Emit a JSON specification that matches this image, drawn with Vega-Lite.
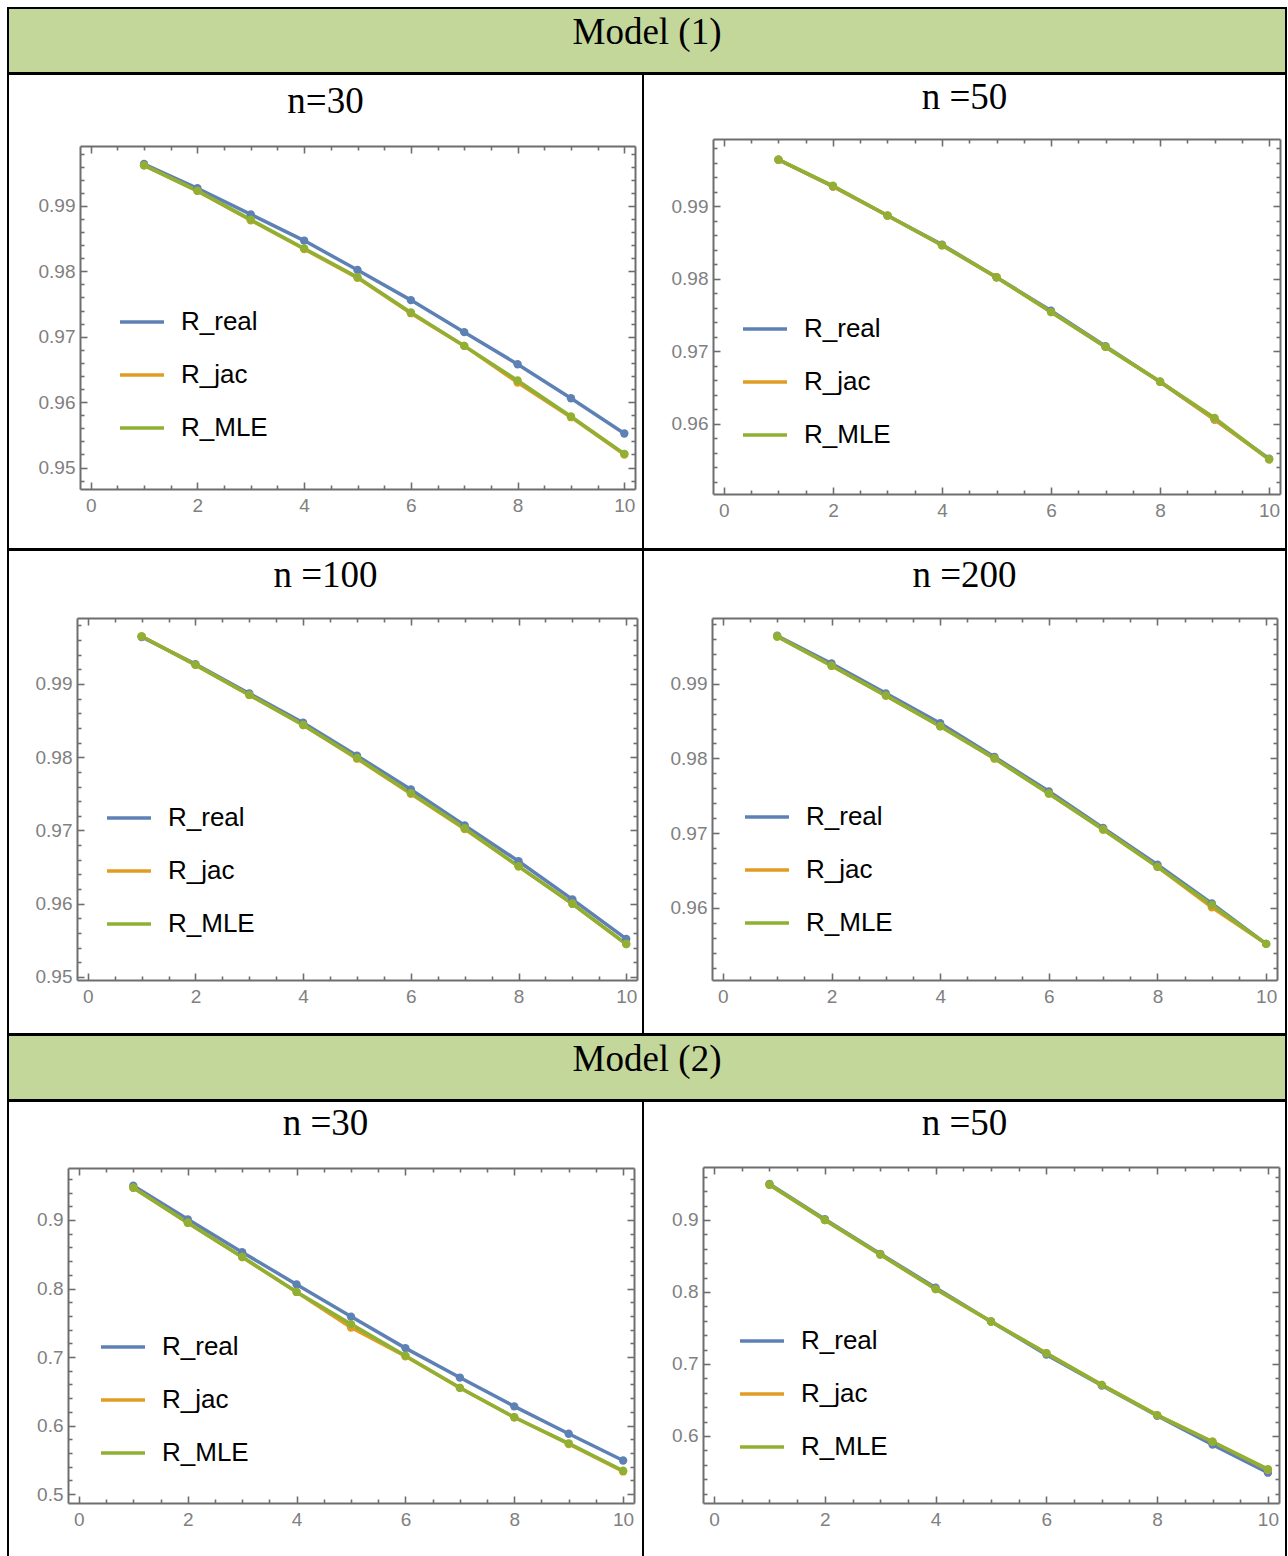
{
  "$schema": "https://vega.github.io/schema/vega-lite/v6.json",
  "padding": {"left": 7, "top": 7, "right": 0, "bottom": 0},
  "background": "white",
  "spacing": -2,
  "config": {
    "view": {"stroke": "black", "strokeWidth": 2},
    "concat": {"spacing": 0},
    "title": {"font": "Liberation Serif", "fontSize": 37, "fontWeight": "normal", "color": "black", "anchor": "middle"},
    "axis": {"domainColor": "#6e6e6e", "domainWidth": 2, "tickColor": "#6e6e6e", "tickWidth": 1.6, "labelColor": "#808080", "labelFont": "Liberation Sans", "labelFontSize": 19, "grid": false, "title": null, "labelOverlap": false, "labelFlush": false, "labelBound": false},
    "legend": {"orient": "none", "title": null, "symbolType": "stroke", "symbolSize": 1936, "symbolStrokeWidth": 3.5, "labelFont": "Liberation Sans", "labelFontSize": 26, "labelColor": "black", "labelOffset": 15, "rowPadding": 16, "padding": 0, "labelLimit": 300},
    "line": {"strokeWidth": 3.5},
    "point": {"filled": true, "size": 70, "opacity": 1}
  },
  "datasets": {
    "p1": [
      {"t":1,"s":"R_real","R":0.9964},{"t":2,"s":"R_real","R":0.9927},{"t":3,"s":"R_real","R":0.9887},{"t":4,"s":"R_real","R":0.9847},{"t":5,"s":"R_real","R":0.9802},{"t":6,"s":"R_real","R":0.9756},{"t":7,"s":"R_real","R":0.9707},{"t":8,"s":"R_real","R":0.9658},{"t":9,"s":"R_real","R":0.9606},{"t":10,"s":"R_real","R":0.9552},
      {"t":1,"s":"R_jac","R":0.9962},{"t":2,"s":"R_jac","R":0.9923},{"t":3,"s":"R_jac","R":0.9878},{"t":4,"s":"R_jac","R":0.9834},{"t":5,"s":"R_jac","R":0.9790},{"t":6,"s":"R_jac","R":0.9736},{"t":7,"s":"R_jac","R":0.9686},{"t":8,"s":"R_jac","R":0.9630},{"t":9,"s":"R_jac","R":0.9577},{"t":10,"s":"R_jac","R":0.9520},
      {"t":1,"s":"R_MLE","R":0.9962},{"t":2,"s":"R_MLE","R":0.9923},{"t":3,"s":"R_MLE","R":0.9879},{"t":4,"s":"R_MLE","R":0.9835},{"t":5,"s":"R_MLE","R":0.9791},{"t":6,"s":"R_MLE","R":0.9737},{"t":7,"s":"R_MLE","R":0.9686},{"t":8,"s":"R_MLE","R":0.9633},{"t":9,"s":"R_MLE","R":0.9578},{"t":10,"s":"R_MLE","R":0.9521}
    ],
    "p2": [
      {"t":1,"s":"R_real","R":0.9964},{"t":2,"s":"R_real","R":0.9927},{"t":3,"s":"R_real","R":0.9887},{"t":4,"s":"R_real","R":0.9847},{"t":5,"s":"R_real","R":0.9802},{"t":6,"s":"R_real","R":0.9756},{"t":7,"s":"R_real","R":0.9707},{"t":8,"s":"R_real","R":0.9658},{"t":9,"s":"R_real","R":0.9606},{"t":10,"s":"R_real","R":0.9552},
      {"t":1,"s":"R_jac","R":0.9964},{"t":2,"s":"R_jac","R":0.9927},{"t":3,"s":"R_jac","R":0.9887},{"t":4,"s":"R_jac","R":0.9846},{"t":5,"s":"R_jac","R":0.9802},{"t":6,"s":"R_jac","R":0.9754},{"t":7,"s":"R_jac","R":0.9706},{"t":8,"s":"R_jac","R":0.9658},{"t":9,"s":"R_jac","R":0.9606},{"t":10,"s":"R_jac","R":0.9551},
      {"t":1,"s":"R_MLE","R":0.9964},{"t":2,"s":"R_MLE","R":0.9928},{"t":3,"s":"R_MLE","R":0.9887},{"t":4,"s":"R_MLE","R":0.9846},{"t":5,"s":"R_MLE","R":0.9802},{"t":6,"s":"R_MLE","R":0.9754},{"t":7,"s":"R_MLE","R":0.9706},{"t":8,"s":"R_MLE","R":0.9658},{"t":9,"s":"R_MLE","R":0.9608},{"t":10,"s":"R_MLE","R":0.9551}
    ],
    "p3": [
      {"t":1,"s":"R_real","R":0.9964},{"t":2,"s":"R_real","R":0.9927},{"t":3,"s":"R_real","R":0.9887},{"t":4,"s":"R_real","R":0.9847},{"t":5,"s":"R_real","R":0.9802},{"t":6,"s":"R_real","R":0.9756},{"t":7,"s":"R_real","R":0.9707},{"t":8,"s":"R_real","R":0.9658},{"t":9,"s":"R_real","R":0.9606},{"t":10,"s":"R_real","R":0.9552},
      {"t":1,"s":"R_jac","R":0.9965},{"t":2,"s":"R_jac","R":0.9926},{"t":3,"s":"R_jac","R":0.9885},{"t":4,"s":"R_jac","R":0.9844},{"t":5,"s":"R_jac","R":0.9798},{"t":6,"s":"R_jac","R":0.9750},{"t":7,"s":"R_jac","R":0.9702},{"t":8,"s":"R_jac","R":0.9651},{"t":9,"s":"R_jac","R":0.9600},{"t":10,"s":"R_jac","R":0.9545},
      {"t":1,"s":"R_MLE","R":0.9965},{"t":2,"s":"R_MLE","R":0.9926},{"t":3,"s":"R_MLE","R":0.9885},{"t":4,"s":"R_MLE","R":0.9844},{"t":5,"s":"R_MLE","R":0.9799},{"t":6,"s":"R_MLE","R":0.9751},{"t":7,"s":"R_MLE","R":0.9703},{"t":8,"s":"R_MLE","R":0.9651},{"t":9,"s":"R_MLE","R":0.9600},{"t":10,"s":"R_MLE","R":0.9545}
    ],
    "p4": [
      {"t":1,"s":"R_real","R":0.9964},{"t":2,"s":"R_real","R":0.9927},{"t":3,"s":"R_real","R":0.9887},{"t":4,"s":"R_real","R":0.9847},{"t":5,"s":"R_real","R":0.9802},{"t":6,"s":"R_real","R":0.9756},{"t":7,"s":"R_real","R":0.9707},{"t":8,"s":"R_real","R":0.9658},{"t":9,"s":"R_real","R":0.9606},{"t":10,"s":"R_real","R":0.9552},
      {"t":1,"s":"R_jac","R":0.9963},{"t":2,"s":"R_jac","R":0.9924},{"t":3,"s":"R_jac","R":0.9884},{"t":4,"s":"R_jac","R":0.9843},{"t":5,"s":"R_jac","R":0.9800},{"t":6,"s":"R_jac","R":0.9753},{"t":7,"s":"R_jac","R":0.9705},{"t":8,"s":"R_jac","R":0.9655},{"t":9,"s":"R_jac","R":0.9601},{"t":10,"s":"R_jac","R":0.9552},
      {"t":1,"s":"R_MLE","R":0.9963},{"t":2,"s":"R_MLE","R":0.9924},{"t":3,"s":"R_MLE","R":0.9884},{"t":4,"s":"R_MLE","R":0.9843},{"t":5,"s":"R_MLE","R":0.9800},{"t":6,"s":"R_MLE","R":0.9753},{"t":7,"s":"R_MLE","R":0.9705},{"t":8,"s":"R_MLE","R":0.9655},{"t":9,"s":"R_MLE","R":0.9604},{"t":10,"s":"R_MLE","R":0.9552}
    ],
    "p5": [
      {"t":1,"s":"R_real","R":0.950},{"t":2,"s":"R_real","R":0.901},{"t":3,"s":"R_real","R":0.853},{"t":4,"s":"R_real","R":0.806},{"t":5,"s":"R_real","R":0.759},{"t":6,"s":"R_real","R":0.713},{"t":7,"s":"R_real","R":0.670},{"t":8,"s":"R_real","R":0.628},{"t":9,"s":"R_real","R":0.588},{"t":10,"s":"R_real","R":0.549},
      {"t":1,"s":"R_jac","R":0.947},{"t":2,"s":"R_jac","R":0.896},{"t":3,"s":"R_jac","R":0.846},{"t":4,"s":"R_jac","R":0.795},{"t":5,"s":"R_jac","R":0.743},{"t":6,"s":"R_jac","R":0.701},{"t":7,"s":"R_jac","R":0.655},{"t":8,"s":"R_jac","R":0.612},{"t":9,"s":"R_jac","R":0.573},{"t":10,"s":"R_jac","R":0.533},
      {"t":1,"s":"R_MLE","R":0.947},{"t":2,"s":"R_MLE","R":0.896},{"t":3,"s":"R_MLE","R":0.846},{"t":4,"s":"R_MLE","R":0.795},{"t":5,"s":"R_MLE","R":0.748},{"t":6,"s":"R_MLE","R":0.702},{"t":7,"s":"R_MLE","R":0.655},{"t":8,"s":"R_MLE","R":0.612},{"t":9,"s":"R_MLE","R":0.574},{"t":10,"s":"R_MLE","R":0.534}
    ],
    "p6": [
      {"t":1,"s":"R_real","R":0.950},{"t":2,"s":"R_real","R":0.901},{"t":3,"s":"R_real","R":0.853},{"t":4,"s":"R_real","R":0.806},{"t":5,"s":"R_real","R":0.759},{"t":6,"s":"R_real","R":0.713},{"t":7,"s":"R_real","R":0.670},{"t":8,"s":"R_real","R":0.628},{"t":9,"s":"R_real","R":0.588},{"t":10,"s":"R_real","R":0.549},
      {"t":1,"s":"R_jac","R":0.949},{"t":2,"s":"R_jac","R":0.900},{"t":3,"s":"R_jac","R":0.852},{"t":4,"s":"R_jac","R":0.804},{"t":5,"s":"R_jac","R":0.759},{"t":6,"s":"R_jac","R":0.715},{"t":7,"s":"R_jac","R":0.671},{"t":8,"s":"R_jac","R":0.629},{"t":9,"s":"R_jac","R":0.592},{"t":10,"s":"R_jac","R":0.553},
      {"t":1,"s":"R_MLE","R":0.949},{"t":2,"s":"R_MLE","R":0.900},{"t":3,"s":"R_MLE","R":0.852},{"t":4,"s":"R_MLE","R":0.804},{"t":5,"s":"R_MLE","R":0.759},{"t":6,"s":"R_MLE","R":0.715},{"t":7,"s":"R_MLE","R":0.671},{"t":8,"s":"R_MLE","R":0.629},{"t":9,"s":"R_MLE","R":0.592},{"t":10,"s":"R_MLE","R":0.554}
    ]
  },
  "resolve": {"scale": {"color": "independent"}, "legend": {"color": "independent"}},
  "vconcat": [
    {
      "width": 1278, "height": 65,
      "view": {"fill": "#c4d79b", "stroke": "black", "strokeWidth": 2},
      "data": {"values": [{"label": "Model (1)"}]},
      "mark": {"type": "text", "font": "Liberation Serif", "fontSize": 37, "baseline": "alphabetic", "dy": 3, "color": "black"},
      "encoding": {"text": {"field": "label", "type": "nominal"}}
    },
    {
      "spacing": 0, "bounds": "flush",
      "resolve": {"scale": {"color": "independent"}, "legend": {"color": "independent"}},
      "hconcat": [
        {
          "width": 635, "height": 475,
          "title": {"text": "n=30", "offset": -47},
          "data": {"name": "p1"},
          "layer": [
            {"mark": {"type": "line"},
             "encoding": {
               "x": {"field": "t", "type": "quantitative", "scale": {"domain": [-0.2, 10.2], "range": [72, 627], "nice": false, "zero": false},
                     "axis": {"orient": "bottom", "offset": -60, "values": [0,0.5,1,1.5,2,2.5,3,3.5,4,4.5,5,5.5,6,6.5,7,7.5,8,8.5,9,9.5,10], "labelExpr": "datum.value % 2 === 0 ? format(datum.value, 'd') : ''", "tickSize": {"condition": {"test": "datum.value % 2 === 0", "value": -7}, "value": -4}, "labelPadding": 14}},
               "y": {"field": "R", "type": "quantitative", "scale": {"domain": [0.94672, 0.99916], "range": [415, 72], "nice": false, "zero": false},
                     "axis": {"orient": "left", "offset": -72, "values": [0.948,0.95,0.952,0.954,0.956,0.958,0.96,0.962,0.964,0.966,0.968,0.97,0.972,0.974,0.976,0.978,0.98,0.982,0.984,0.986,0.988,0.99,0.992,0.994,0.996,0.998], "labelExpr": "abs(datum.value*100-round(datum.value*100)) < 0.001 ? format(datum.value, '.2f') : ''", "tickSize": {"condition": {"test": "abs(datum.value*100-round(datum.value*100)) < 0.001", "value": -7}, "value": -4}, "labelPadding": 12}},
               "color": {"field": "s", "type": "nominal", "scale": {"domain": ["R_real", "R_jac", "R_MLE"], "range": ["#5E81B5", "#E19C24", "#8FB032"]},
                         "legend": {"legendX": 110, "legendY": 224}}
             }},
            {"mark": {"type": "point"},
             "encoding": {
               "x": {"field": "t", "type": "quantitative", "scale": {"domain": [-0.2, 10.2], "range": [72, 627], "nice": false, "zero": false},
                     "axis": {"orient": "top", "offset": -72, "values": [0,0.5,1,1.5,2,2.5,3,3.5,4,4.5,5,5.5,6,6.5,7,7.5,8,8.5,9,9.5,10], "labels": false, "tickSize": {"condition": {"test": "datum.value % 2 === 0", "value": -7}, "value": -4}}},
               "y": {"field": "R", "type": "quantitative", "scale": {"domain": [0.94672, 0.99916], "range": [415, 72], "nice": false, "zero": false},
                     "axis": {"orient": "right", "offset": -8, "values": [0.948,0.95,0.952,0.954,0.956,0.958,0.96,0.962,0.964,0.966,0.968,0.97,0.972,0.974,0.976,0.978,0.98,0.982,0.984,0.986,0.988,0.99,0.992,0.994,0.996,0.998], "labels": false, "tickSize": {"condition": {"test": "abs(datum.value*100-round(datum.value*100)) < 0.001", "value": -7}, "value": -4}}},
               "color": {"field": "s", "type": "nominal", "scale": {"domain": ["R_real", "R_jac", "R_MLE"], "range": ["#5E81B5", "#E19C24", "#8FB032"]}, "legend": null}
             }}
          ],
          "resolve": {"axis": {"x": "independent", "y": "independent"}}
        },
        {
          "width": 643, "height": 475,
          "title": {"text": "n =50", "offset": -43},
          "data": {"name": "p2"},
          "layer": [
            {"mark": {"type": "line"},
             "encoding": {
               "x": {"field": "t", "type": "quantitative", "scale": {"domain": [-0.2, 10.2], "range": [70, 637], "nice": false, "zero": false},
                     "axis": {"orient": "bottom", "offset": -55, "values": [0,0.5,1,1.5,2,2.5,3,3.5,4,4.5,5,5.5,6,6.5,7,7.5,8,8.5,9,9.5,10], "labelExpr": "datum.value % 2 === 0 ? format(datum.value, 'd') : ''", "tickSize": {"condition": {"test": "datum.value % 2 === 0", "value": -7}, "value": -4}, "labelPadding": 14}},
               "y": {"field": "R", "type": "quantitative", "scale": {"domain": [0.95033, 0.99925], "range": [420, 65], "nice": false, "zero": false},
                     "axis": {"orient": "left", "offset": -70, "values": [0.952,0.954,0.956,0.958,0.96,0.962,0.964,0.966,0.968,0.97,0.972,0.974,0.976,0.978,0.98,0.982,0.984,0.986,0.988,0.99,0.992,0.994,0.996,0.998], "labelExpr": "abs(datum.value*100-round(datum.value*100)) < 0.001 ? format(datum.value, '.2f') : ''", "tickSize": {"condition": {"test": "abs(datum.value*100-round(datum.value*100)) < 0.001", "value": -7}, "value": -4}, "labelPadding": 12}},
               "color": {"field": "s", "type": "nominal", "scale": {"domain": ["R_real", "R_jac", "R_MLE"], "range": ["#5E81B5", "#E19C24", "#8FB032"]},
                         "legend": {"legendX": 98, "legendY": 231}}
             }},
            {"mark": {"type": "point"},
             "encoding": {
               "x": {"field": "t", "type": "quantitative", "scale": {"domain": [-0.2, 10.2], "range": [70, 637], "nice": false, "zero": false},
                     "axis": {"orient": "top", "offset": -65, "values": [0,0.5,1,1.5,2,2.5,3,3.5,4,4.5,5,5.5,6,6.5,7,7.5,8,8.5,9,9.5,10], "labels": false, "tickSize": {"condition": {"test": "datum.value % 2 === 0", "value": -7}, "value": -4}}},
               "y": {"field": "R", "type": "quantitative", "scale": {"domain": [0.95033, 0.99925], "range": [420, 65], "nice": false, "zero": false},
                     "axis": {"orient": "right", "offset": -6, "values": [0.952,0.954,0.956,0.958,0.96,0.962,0.964,0.966,0.968,0.97,0.972,0.974,0.976,0.978,0.98,0.982,0.984,0.986,0.988,0.99,0.992,0.994,0.996,0.998], "labels": false, "tickSize": {"condition": {"test": "abs(datum.value*100-round(datum.value*100)) < 0.001", "value": -7}, "value": -4}}},
               "color": {"field": "s", "type": "nominal", "scale": {"domain": ["R_real", "R_jac", "R_MLE"], "range": ["#5E81B5", "#E19C24", "#8FB032"]}, "legend": null}
             }}
          ],
          "resolve": {"axis": {"x": "independent", "y": "independent"}}
        }
      ]
    },
    {
      "spacing": 0, "bounds": "flush",
      "resolve": {"scale": {"color": "independent"}, "legend": {"color": "independent"}},
      "hconcat": [
        {
          "width": 635, "height": 484,
          "title": {"text": "n =100", "offset": -45},
          "data": {"name": "p3"},
          "layer": [
            {"mark": {"type": "line"},
             "encoding": {
               "x": {"field": "t", "type": "quantitative", "scale": {"domain": [-0.2, 10.2], "range": [69, 629], "nice": false, "zero": false},
                     "axis": {"orient": "bottom", "offset": -54, "values": [0,0.5,1,1.5,2,2.5,3,3.5,4,4.5,5,5.5,6,6.5,7,7.5,8,8.5,9,9.5,10], "labelExpr": "datum.value % 2 === 0 ? format(datum.value, 'd') : ''", "tickSize": {"condition": {"test": "datum.value % 2 === 0", "value": -7}, "value": -4}, "labelPadding": 14}},
               "y": {"field": "R", "type": "quantitative", "scale": {"domain": [0.94959, 0.999], "range": [430, 68], "nice": false, "zero": false},
                     "axis": {"orient": "left", "offset": -69, "values": [0.95,0.952,0.954,0.956,0.958,0.96,0.962,0.964,0.966,0.968,0.97,0.972,0.974,0.976,0.978,0.98,0.982,0.984,0.986,0.988,0.99,0.992,0.994,0.996,0.998], "labelExpr": "abs(datum.value*100-round(datum.value*100)) < 0.001 ? format(datum.value, '.2f') : ''", "tickSize": {"condition": {"test": "abs(datum.value*100-round(datum.value*100)) < 0.001", "value": -7}, "value": -4}, "labelPadding": 12}},
               "color": {"field": "s", "type": "nominal", "scale": {"domain": ["R_real", "R_jac", "R_MLE"], "range": ["#5E81B5", "#E19C24", "#8FB032"]},
                         "legend": {"legendX": 97, "legendY": 244}}
             }},
            {"mark": {"type": "point"},
             "encoding": {
               "x": {"field": "t", "type": "quantitative", "scale": {"domain": [-0.2, 10.2], "range": [69, 629], "nice": false, "zero": false},
                     "axis": {"orient": "top", "offset": -68, "values": [0,0.5,1,1.5,2,2.5,3,3.5,4,4.5,5,5.5,6,6.5,7,7.5,8,8.5,9,9.5,10], "labels": false, "tickSize": {"condition": {"test": "datum.value % 2 === 0", "value": -7}, "value": -4}}},
               "y": {"field": "R", "type": "quantitative", "scale": {"domain": [0.94959, 0.999], "range": [430, 68], "nice": false, "zero": false},
                     "axis": {"orient": "right", "offset": -6, "values": [0.95,0.952,0.954,0.956,0.958,0.96,0.962,0.964,0.966,0.968,0.97,0.972,0.974,0.976,0.978,0.98,0.982,0.984,0.986,0.988,0.99,0.992,0.994,0.996,0.998], "labels": false, "tickSize": {"condition": {"test": "abs(datum.value*100-round(datum.value*100)) < 0.001", "value": -7}, "value": -4}}},
               "color": {"field": "s", "type": "nominal", "scale": {"domain": ["R_real", "R_jac", "R_MLE"], "range": ["#5E81B5", "#E19C24", "#8FB032"]}, "legend": null}
             }}
          ],
          "resolve": {"axis": {"x": "independent", "y": "independent"}}
        },
        {
          "width": 643, "height": 484,
          "title": {"text": "n =200", "offset": -45},
          "data": {"name": "p4"},
          "layer": [
            {"mark": {"type": "line"},
             "encoding": {
               "x": {"field": "t", "type": "quantitative", "scale": {"domain": [-0.2, 10.2], "range": [69, 634], "nice": false, "zero": false},
                     "axis": {"orient": "bottom", "offset": -54, "values": [0,0.5,1,1.5,2,2.5,3,3.5,4,4.5,5,5.5,6,6.5,7,7.5,8,8.5,9,9.5,10], "labelExpr": "datum.value % 2 === 0 ? format(datum.value, 'd') : ''", "tickSize": {"condition": {"test": "datum.value % 2 === 0", "value": -7}, "value": -4}, "labelPadding": 14}},
               "y": {"field": "R", "type": "quantitative", "scale": {"domain": [0.95037, 0.99878], "range": [430, 68], "nice": false, "zero": false},
                     "axis": {"orient": "left", "offset": -69, "values": [0.952,0.954,0.956,0.958,0.96,0.962,0.964,0.966,0.968,0.97,0.972,0.974,0.976,0.978,0.98,0.982,0.984,0.986,0.988,0.99,0.992,0.994,0.996,0.998], "labelExpr": "abs(datum.value*100-round(datum.value*100)) < 0.001 ? format(datum.value, '.2f') : ''", "tickSize": {"condition": {"test": "abs(datum.value*100-round(datum.value*100)) < 0.001", "value": -7}, "value": -4}, "labelPadding": 12}},
               "color": {"field": "s", "type": "nominal", "scale": {"domain": ["R_real", "R_jac", "R_MLE"], "range": ["#5E81B5", "#E19C24", "#8FB032"]},
                         "legend": {"legendX": 100, "legendY": 243}}
             }},
            {"mark": {"type": "point"},
             "encoding": {
               "x": {"field": "t", "type": "quantitative", "scale": {"domain": [-0.2, 10.2], "range": [69, 634], "nice": false, "zero": false},
                     "axis": {"orient": "top", "offset": -68, "values": [0,0.5,1,1.5,2,2.5,3,3.5,4,4.5,5,5.5,6,6.5,7,7.5,8,8.5,9,9.5,10], "labels": false, "tickSize": {"condition": {"test": "datum.value % 2 === 0", "value": -7}, "value": -4}}},
               "y": {"field": "R", "type": "quantitative", "scale": {"domain": [0.95037, 0.99878], "range": [430, 68], "nice": false, "zero": false},
                     "axis": {"orient": "right", "offset": -9, "values": [0.952,0.954,0.956,0.958,0.96,0.962,0.964,0.966,0.968,0.97,0.972,0.974,0.976,0.978,0.98,0.982,0.984,0.986,0.988,0.99,0.992,0.994,0.996,0.998], "labels": false, "tickSize": {"condition": {"test": "abs(datum.value*100-round(datum.value*100)) < 0.001", "value": -7}, "value": -4}}},
               "color": {"field": "s", "type": "nominal", "scale": {"domain": ["R_real", "R_jac", "R_MLE"], "range": ["#5E81B5", "#E19C24", "#8FB032"]}, "legend": null}
             }}
          ],
          "resolve": {"axis": {"x": "independent", "y": "independent"}}
        }
      ]
    },
    {
      "width": 1278, "height": 65,
      "view": {"fill": "#c4d79b", "stroke": "black", "strokeWidth": 2},
      "data": {"values": [{"label": "Model (2)"}]},
      "mark": {"type": "text", "font": "Liberation Serif", "fontSize": 37, "baseline": "alphabetic", "dy": 3, "color": "black"},
      "encoding": {"text": {"field": "label", "type": "nominal"}}
    },
    {
      "spacing": 0, "bounds": "flush",
      "resolve": {"scale": {"color": "independent"}, "legend": {"color": "independent"}},
      "hconcat": [
        {
          "width": 635, "height": 460,
          "title": {"text": "n =30", "offset": -42},
          "data": {"name": "p5"},
          "layer": [
            {"mark": {"type": "line"},
             "encoding": {
               "x": {"field": "t", "type": "quantitative", "scale": {"domain": [-0.2, 10.2], "range": [60, 626], "nice": false, "zero": false},
                     "axis": {"orient": "bottom", "offset": -58, "values": [0,0.5,1,1.5,2,2.5,3,3.5,4,4.5,5,5.5,6,6.5,7,7.5,8,8.5,9,9.5,10], "labelExpr": "datum.value % 2 === 0 ? format(datum.value, 'd') : ''", "tickSize": {"condition": {"test": "datum.value % 2 === 0", "value": -7}, "value": -4}, "labelPadding": 14}},
               "y": {"field": "R", "type": "quantitative", "scale": {"domain": [0.4869, 0.9759], "range": [402, 67], "nice": false, "zero": false},
                     "axis": {"orient": "left", "offset": -60, "values": [0.5,0.52,0.54,0.56,0.58,0.6,0.62,0.64,0.66,0.68,0.7,0.72,0.74,0.76,0.78,0.8,0.82,0.84,0.86,0.88,0.9,0.92,0.94,0.96], "labelExpr": "abs(datum.value*10-round(datum.value*10)) < 0.001 ? format(datum.value, '.1f') : ''", "tickSize": {"condition": {"test": "abs(datum.value*10-round(datum.value*10)) < 0.001", "value": -7}, "value": -4}, "labelPadding": 12}},
               "color": {"field": "s", "type": "nominal", "scale": {"domain": ["R_real", "R_jac", "R_MLE"], "range": ["#5E81B5", "#E19C24", "#8FB032"]},
                         "legend": {"legendX": 91, "legendY": 222}}
             }},
            {"mark": {"type": "point"},
             "encoding": {
               "x": {"field": "t", "type": "quantitative", "scale": {"domain": [-0.2, 10.2], "range": [60, 626], "nice": false, "zero": false},
                     "axis": {"orient": "top", "offset": -67, "values": [0,0.5,1,1.5,2,2.5,3,3.5,4,4.5,5,5.5,6,6.5,7,7.5,8,8.5,9,9.5,10], "labels": false, "tickSize": {"condition": {"test": "datum.value % 2 === 0", "value": -7}, "value": -4}}},
               "y": {"field": "R", "type": "quantitative", "scale": {"domain": [0.4869, 0.9759], "range": [402, 67], "nice": false, "zero": false},
                     "axis": {"orient": "right", "offset": -9, "values": [0.5,0.52,0.54,0.56,0.58,0.6,0.62,0.64,0.66,0.68,0.7,0.72,0.74,0.76,0.78,0.8,0.82,0.84,0.86,0.88,0.9,0.92,0.94,0.96], "labels": false, "tickSize": {"condition": {"test": "abs(datum.value*10-round(datum.value*10)) < 0.001", "value": -7}, "value": -4}}},
               "color": {"field": "s", "type": "nominal", "scale": {"domain": ["R_real", "R_jac", "R_MLE"], "range": ["#5E81B5", "#E19C24", "#8FB032"]}, "legend": null}
             }}
          ],
          "resolve": {"axis": {"x": "independent", "y": "independent"}}
        },
        {
          "width": 643, "height": 460,
          "title": {"text": "n =50", "offset": -42},
          "data": {"name": "p6"},
          "layer": [
            {"mark": {"type": "line"},
             "encoding": {
               "x": {"field": "t", "type": "quantitative", "scale": {"domain": [-0.2, 10.2], "range": [60, 636], "nice": false, "zero": false},
                     "axis": {"orient": "bottom", "offset": -58, "values": [0,0.5,1,1.5,2,2.5,3,3.5,4,4.5,5,5.5,6,6.5,7,7.5,8,8.5,9,9.5,10], "labelExpr": "datum.value % 2 === 0 ? format(datum.value, 'd') : ''", "tickSize": {"condition": {"test": "datum.value % 2 === 0", "value": -7}, "value": -4}, "labelPadding": 14}},
               "y": {"field": "R", "type": "quantitative", "scale": {"domain": [0.5069, 0.9736], "range": [402, 66], "nice": false, "zero": false},
                     "axis": {"orient": "left", "offset": -60, "values": [0.52,0.54,0.56,0.58,0.6,0.62,0.64,0.66,0.68,0.7,0.72,0.74,0.76,0.78,0.8,0.82,0.84,0.86,0.88,0.9,0.92,0.94,0.96], "labelExpr": "abs(datum.value*10-round(datum.value*10)) < 0.001 ? format(datum.value, '.1f') : ''", "tickSize": {"condition": {"test": "abs(datum.value*10-round(datum.value*10)) < 0.001", "value": -7}, "value": -4}, "labelPadding": 12}},
               "color": {"field": "s", "type": "nominal", "scale": {"domain": ["R_real", "R_jac", "R_MLE"], "range": ["#5E81B5", "#E19C24", "#8FB032"]},
                         "legend": {"legendX": 95, "legendY": 216}}
             }},
            {"mark": {"type": "point"},
             "encoding": {
               "x": {"field": "t", "type": "quantitative", "scale": {"domain": [-0.2, 10.2], "range": [60, 636], "nice": false, "zero": false},
                     "axis": {"orient": "top", "offset": -66, "values": [0,0.5,1,1.5,2,2.5,3,3.5,4,4.5,5,5.5,6,6.5,7,7.5,8,8.5,9,9.5,10], "labels": false, "tickSize": {"condition": {"test": "datum.value % 2 === 0", "value": -7}, "value": -4}}},
               "y": {"field": "R", "type": "quantitative", "scale": {"domain": [0.5069, 0.9736], "range": [402, 66], "nice": false, "zero": false},
                     "axis": {"orient": "right", "offset": -7, "values": [0.52,0.54,0.56,0.58,0.6,0.62,0.64,0.66,0.68,0.7,0.72,0.74,0.76,0.78,0.8,0.82,0.84,0.86,0.88,0.9,0.92,0.94,0.96], "labels": false, "tickSize": {"condition": {"test": "abs(datum.value*10-round(datum.value*10)) < 0.001", "value": -7}, "value": -4}}},
               "color": {"field": "s", "type": "nominal", "scale": {"domain": ["R_real", "R_jac", "R_MLE"], "range": ["#5E81B5", "#E19C24", "#8FB032"]}, "legend": null}
             }}
          ],
          "resolve": {"axis": {"x": "independent", "y": "independent"}}
        }
      ]
    }
  ]
}
